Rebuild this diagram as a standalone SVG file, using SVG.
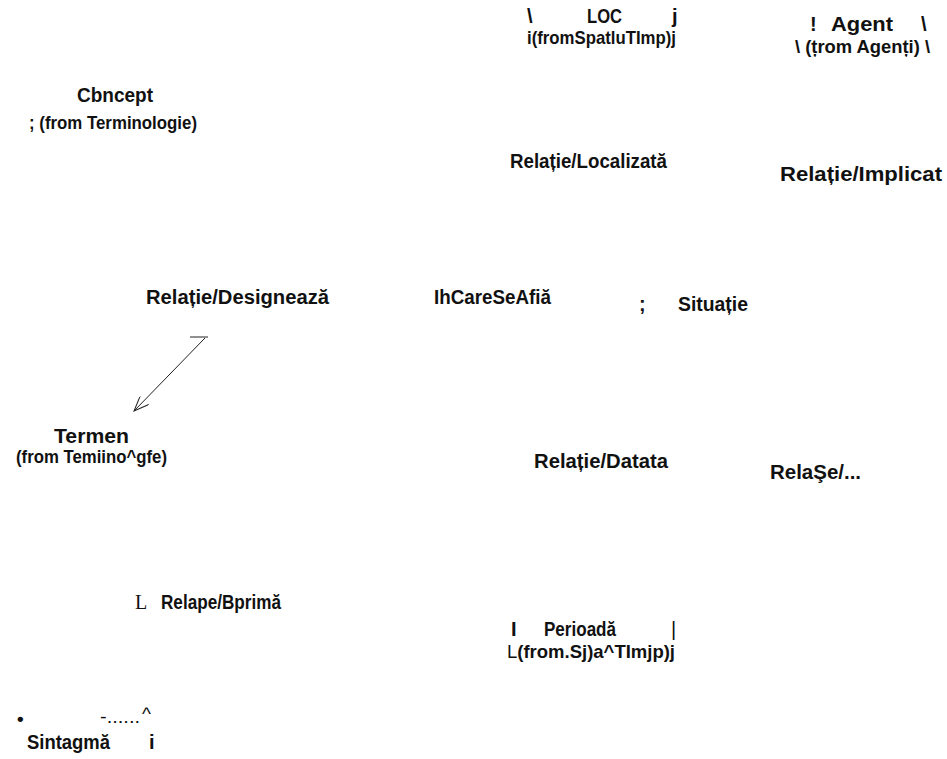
<svg xmlns="http://www.w3.org/2000/svg" width="947" height="759" viewBox="0 0 947 759">
  <style>
    text { font-family: "Liberation Sans", Arial, sans-serif; font-weight: bold; fill: #111; }
    .t { font-size: 20px; }
    .s { font-size: 19px; }
    .thin { font-weight: normal; }
    .serif { font-family: "Liberation Serif", "Times New Roman", serif; font-weight: normal; }
    .edge { fill: none; stroke: #222; stroke-width: 1; }
  </style>
  <defs>
    <marker id="open" viewBox="0 0 16 12" refX="15" refY="6" markerWidth="16" markerHeight="12" markerUnits="userSpaceOnUse" orient="auto">
      <path d="M0,0 L15,6 L0,12" fill="none" stroke="#222" stroke-width="1"/>
    </marker>
  </defs>
  <rect width="947" height="759" fill="#fff"/>

  <g id="loc">
    <text class="t" x="527" y="23">\</text>
    <text class="t" x="587" y="23" textLength="35" lengthAdjust="spacingAndGlyphs">LOC</text>
    <text class="t" x="672" y="23">j</text>
    <text class="s" x="527" y="44" textLength="149" lengthAdjust="spacingAndGlyphs">i(fromSpatluTImp)j</text>
  </g>

  <g id="agent">
    <text class="t" x="810" y="31">!</text>
    <text class="t" x="831" y="31" textLength="62" lengthAdjust="spacingAndGlyphs">Agent</text>
    <text class="t" x="921" y="31">\</text>
    <text class="s" x="795" y="53" textLength="135" lengthAdjust="spacingAndGlyphs">\ (țrom Agenți) \</text>
  </g>

  <g id="concept">
    <text class="t" x="77" y="102" textLength="76" lengthAdjust="spacingAndGlyphs">Cbncept</text>
    <text class="s" x="29" y="129" textLength="168" lengthAdjust="spacingAndGlyphs">; (from Terminologie)</text>
  </g>

  <g id="rel-localizata">
    <text class="t" x="510" y="168" textLength="157" lengthAdjust="spacingAndGlyphs">Relație/Localizată</text>
  </g>

  <g id="rel-implicat">
    <text class="t" x="780" y="181" textLength="162" lengthAdjust="spacingAndGlyphs">Relație/Implicat</text>
  </g>

  <g id="rel-desemneaza">
    <text class="t" x="146" y="304" textLength="183" lengthAdjust="spacingAndGlyphs">Relație/Designează</text>
  </g>

  <g id="in-care-se-afla">
    <text class="t" x="434" y="304" textLength="117" lengthAdjust="spacingAndGlyphs">IhCareSeAfiă</text>
  </g>

  <g id="situatie">
    <text class="t" x="639" y="311">;</text>
    <text class="t" x="678" y="311" textLength="70" lengthAdjust="spacingAndGlyphs">Situație</text>
  </g>

  <g id="termen">
    <text class="t" x="54" y="443" textLength="75" lengthAdjust="spacingAndGlyphs">Termen</text>
    <text class="s" x="16" y="463" textLength="151" lengthAdjust="spacingAndGlyphs">(from Temiino^gfe)</text>
  </g>

  <g id="rel-datata">
    <text class="t" x="534" y="468" textLength="134" lengthAdjust="spacingAndGlyphs">Relație/Datata</text>
  </g>

  <g id="rel-other">
    <text class="t" x="770" y="479" textLength="91" lengthAdjust="spacingAndGlyphs">RelaŞe/...</text>
  </g>

  <g id="rel-exprima">
    <text class="t serif" x="135" y="609">L</text>
    <text class="t" x="161" y="609" textLength="120" lengthAdjust="spacingAndGlyphs">Relape/Bprimă</text>
  </g>

  <g id="perioada">
    <text class="t" x="511" y="636">I</text>
    <text class="t" x="544" y="636" textLength="72" lengthAdjust="spacingAndGlyphs">Perioadă</text>
    <text class="t thin" x="671" y="636">|</text>
    <text class="s" x="507" y="658" textLength="168" lengthAdjust="spacingAndGlyphs"><tspan class="thin">L</tspan>(from.Sj)a^TImjp)j</text>
  </g>

  <g id="sintagma">
    <text class="s" x="17" y="725">•</text>
    <text class="s thin" x="100" y="723" textLength="40" lengthAdjust="spacingAndGlyphs">-......</text>
    <text class="s thin" x="142" y="720">^</text>
    <text class="t" x="27" y="749" textLength="83" lengthAdjust="spacingAndGlyphs">Sintagmă</text>
    <text class="t" x="149" y="749">i</text>
  </g>

  <g id="connectors">
    <line class="edge" x1="190" y1="337" x2="208" y2="337"/>
    <line class="edge" x1="205" y1="338" x2="134" y2="411" marker-end="url(#open)"/>
  </g>
</svg>
